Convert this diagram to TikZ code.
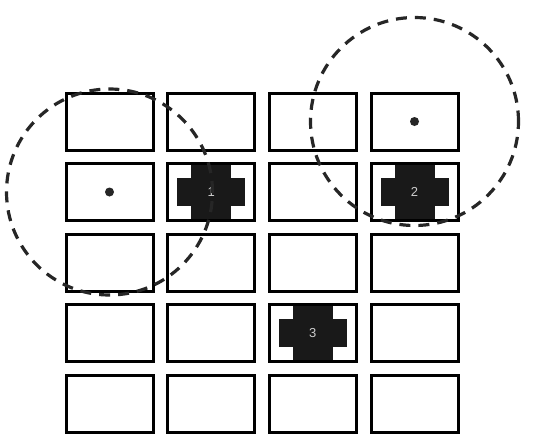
\documentclass[tikz,border=0pt]{standalone}
\usepackage{fontspec}
\setmainfont{Liberation Sans}
\begin{document}
\begin{tikzpicture}[x=1pt,y=-1pt,
  cell/.style={draw=black,line width=3pt,fill=white,minimum width=87pt,minimum height=57pt,inner sep=0pt,outer sep=0pt},
  dotmark/.style={fill=black!85,circle,minimum size=9pt,inner sep=0pt},
  crossfill/.style={fill=black!90},
  numlabel/.style={text=white!80!black,font=\fontsize{13}{13}\selectfont,inner sep=0pt},
  reach/.style={draw=black!85,line width=3.2pt,dash pattern=on 11pt off 8pt}]
\useasboundingbox (0,0) rectangle (536,437);
\fill[white] (0,0) rectangle (536,437);
% grid of cells
\foreach \r [count=\ri] in {121.5,192,262.5,333,403.5}{
  \foreach \c [count=\ci] in {109.5,211.2,312.8,414.5}{
    \node[cell] (c\ri\ci) at (\c,\r) {};
  }
}
% crosses
\foreach \n/\lab in {c22/1,c24/2,c43/3}{
  \fill[crossfill] ([xshift=-20pt,yshift=-27pt]\n.center) rectangle ([xshift=20pt,yshift=27pt]\n.center);
  \fill[crossfill] ([xshift=-34pt,yshift=-14pt]\n.center) rectangle ([xshift=34pt,yshift=14pt]\n.center);
  \node[numlabel] (n\lab) at (\n.center) {\lab};
}
% dots
\node[dotmark] (d1) at (c21.center) {};
\node[dotmark] (d2) at (c14.center) {};
% dashed reach circles
\draw[reach] (d1.center) circle[radius=103pt];
\draw[reach] (d2.center) circle[radius=104pt];
\end{tikzpicture}
\end{document}
